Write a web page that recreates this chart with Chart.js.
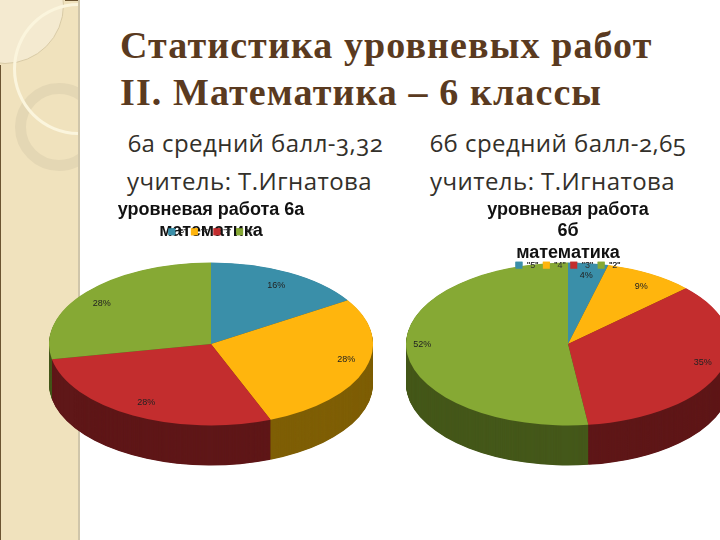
<!DOCTYPE html>
<html lang="ru"><head><meta charset="utf-8">
<script src="https://cdn.jsdelivr.net/npm/chart.js@4/dist/chart.umd.min.js"></script>
<style>
html,body{margin:0;padding:0;width:720px;height:540px;overflow:hidden;background:#fff}
#panel{position:absolute;left:0;top:0;width:78px;height:540px;overflow:hidden;background:#f0e2bd;border-right:2px solid #cfc5aa;box-sizing:content-box}
#panel div{position:absolute;border-radius:50%;box-sizing:border-box}
#strip{position:absolute;left:0;top:65px;width:1px;height:475px;background:#6b5431}
#cap{position:absolute;left:65px;top:0;width:13px;height:1px;background:#6b5431}
.t{position:absolute;white-space:nowrap}
.h{font:bold 38px "Liberation Serif",serif;color:#5a3a20;left:120px;letter-spacing:1.1px}
.s{font:24px "Open Sans",sans-serif;color:#33302a;font-feature-settings:"onum";letter-spacing:.45px}
canvas{position:absolute}
</style></head><body>
<div id="panel">
<div style="left:-54px;top:-54px;width:118px;height:118px;background:#f4ead0;border:1px solid #d9cba6"></div>
<div style="left:15px;top:83px;width:88px;height:88px;border:11px solid #e4d7b4"></div>
<div style="left:13px;top:3px;width:131px;height:132px;border:3px solid #fbf5dd"></div>
<div id="strip" style="border-radius:0"></div>
<div id="cap" style="border-radius:0"></div>
</div>
<div class="t h" style="top:23px">Статистика уровневых работ</div>
<div class="t h" style="top:70px">II. Математика – 6 классы</div>
<div class="t s" style="left:128px;top:126px">6а средний балл-3,32</div>
<div class="t s" style="left:127px;top:164px">учитель: Т.Игнатова</div>
<div class="t s" style="left:430px;top:126px">6б средний балл-2,65</div>
<div class="t s" style="left:430px;top:164px">учитель: Т.Игнатова</div>
<canvas id="c1" width="324" height="560" style="left:49px;top:199px"></canvas>
<canvas id="c2" width="324" height="560" style="left:406px;top:199px"></canvas>
<script>
const grades = ['"5"', '"4"', '"3"', '"2"'];
const values6a = [16, 28, 28, 28];
const values6b = [4, 9, 35, 52];
const title6a = ['уровневая работа 6а', 'математика'];
const title6b = ['уровневая работа', '6б', 'математика'];
const topColors = ['#3a8fa9', '#ffb50d', '#c32d2e', '#86a934'];
const sideColors = ['#1d4855', '#7f5f06', '#5f1718', '#45581a'];
const labelRadius6a = [0.81, 0.86, 0.83, 0.83];
const labelTurn6a = [1, -4, 0, -4];
const labelRadius6b = [0.83, 0.83, 0.865, 0.90];
const labelTurn6b = [0.6, 2.4, -4, 2.6];

const SQUASH = 0.503, DEPTH = 40;
const tilt = {
  id: 'tilt',
  beforeDatasetsDraw(chart, args, o) {
    const ctx = chart.ctx, arcs = chart.getDatasetMeta(0).data;
    const a0 = arcs[0];
    ctx.save();
    ctx.translate(a0.x, o.centerY);
    ctx.scale(1, SQUASH);
    ctx.translate(-a0.x, -a0.y);
    for (let d = DEPTH; d > 0; d -= 0.5) {
      arcs.forEach((a, i) => {
        ctx.beginPath();
        ctx.moveTo(a.x, a.y + d / SQUASH);
        ctx.arc(a.x, a.y + d / SQUASH, a.outerRadius, a.startAngle, a.endAngle);
        ctx.closePath();
        ctx.fillStyle = sideColors[i];
        ctx.fill();
      });
    }
  },
  afterDatasetsDraw(chart, args, o) {
    const ctx = chart.ctx, arcs = chart.getDatasetMeta(0).data, vals = chart.data.datasets[0].data;
    ctx.restore();
    chart.legend.draw();
    ctx.save();
    ctx.font = '9px "Liberation Sans",sans-serif';
    ctx.fillStyle = '#222';
    ctx.textAlign = 'center';
    ctx.textBaseline = 'middle';
    arcs.forEach((a, i) => {
      const mid = (a.startAngle + a.endAngle) / 2 + o.turn[i] * Math.PI / 180;
      const r = a.outerRadius * o.radius[i];
      ctx.fillText(vals[i] + '%', a.x + Math.cos(mid) * r, o.centerY - 1 + Math.sin(mid) * r * SQUASH);
    });
    ctx.restore();
  }
};

function makePie(id, values, title, radius, turn, legendPad, legendFont, titleBottom) {
  return new Chart(document.getElementById(id), {
    type: 'pie',
    plugins: [tilt],
    data: { labels: grades, datasets: [{ data: values, backgroundColor: topColors, borderWidth: 0, clip: false }] },
    options: {
      responsive: false, animation: false, devicePixelRatio: 1,
      plugins: {
        tilt: { centerY: 145, radius, turn },
        tooltip: { enabled: false },
        title: {
          display: true, text: title, color: '#111',
          font: { family: '"Liberation Sans",sans-serif', size: 18, weight: 'bold', lineHeight: 1.2 },
          padding: { top: 0, bottom: titleBottom }
        },
        legend: {
          display: true, position: 'top',
          labels: { boxWidth: 7, boxHeight: 7, padding: legendPad, color: '#333', font: { family: '"Liberation Sans",sans-serif', size: legendFont } }
        }
      }
    }
  });
}
makePie('c1', values6a, title6a, labelRadius6a, labelTurn6a, 5, 6, -19);
makePie('c2', values6b, title6b, labelRadius6b, labelTurn6b, 4.5, 9, -7.5);
</script>
</body></html>
